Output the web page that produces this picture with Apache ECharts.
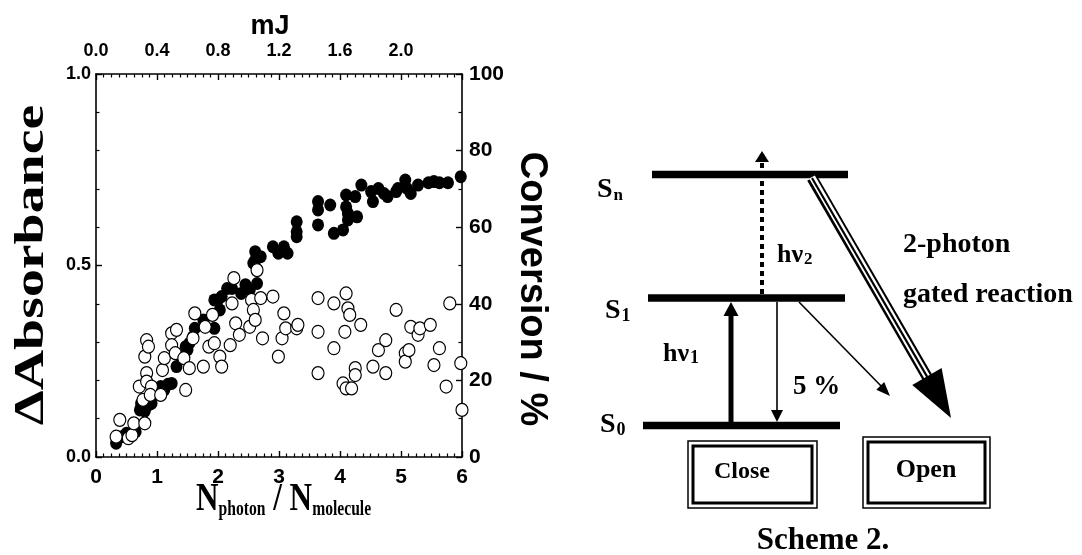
<!DOCTYPE html>
<html>
<head>
<meta charset="utf-8">
<script src="https://cdn.jsdelivr.net/npm/echarts@6/dist/echarts.min.js"></script>
<style>html,body{margin:0;background:#fff}#main{width:1082px;height:555px}</style>
</head>
<body>
<div id="main"></div>
<script>
// ΔAbsorbance (filled circles), x = N_photon / N_molecule
var absX = [0.33, 0.42, 0.50, 0.65, 0.72, 0.74, 0.77, 0.80, 0.86, 0.91, 1.00, 1.06, 1.12, 1.18, 1.24, 1.32, 1.40, 1.47, 1.50, 1.53, 1.59, 1.62, 1.76, 1.94, 1.94, 2.00, 2.03, 2.06, 2.15, 2.23, 2.38, 2.45, 2.52, 2.58, 2.61, 2.61, 2.64, 2.64, 2.70, 2.90, 2.99, 3.08, 3.14, 3.29, 3.29, 3.29, 3.64, 3.64, 3.64, 3.84, 3.90, 4.05, 4.10, 4.10, 4.13, 4.13, 4.25, 4.28, 4.35, 4.51, 4.54, 4.63, 4.72, 4.78, 4.92, 4.95, 5.07, 5.10, 5.16, 5.28, 5.45, 5.54, 5.63, 5.77, 5.98];
var absY = [0.036, 0.053, 0.062, 0.066, 0.123, 0.140, 0.127, 0.120, 0.136, 0.140, 0.170, 0.184, 0.175, 0.190, 0.192, 0.236, 0.260, 0.288, 0.280, 0.297, 0.314, 0.336, 0.358, 0.336, 0.410, 0.410, 0.384, 0.419, 0.440, 0.440, 0.427, 0.450, 0.436, 0.506, 0.536, 0.514, 0.453, 0.523, 0.523, 0.549, 0.532, 0.549, 0.532, 0.614, 0.588, 0.575, 0.667, 0.645, 0.606, 0.658, 0.584, 0.593, 0.684, 0.653, 0.636, 0.619, 0.680, 0.627, 0.710, 0.693, 0.667, 0.701, 0.688, 0.680, 0.693, 0.701, 0.723, 0.701, 0.688, 0.710, 0.716, 0.719, 0.716, 0.716, 0.732];
// Conversion / % (open circles)
var convX = [0.39, 0.33, 0.53, 0.59, 0.62, 0.71, 0.77, 0.80, 0.80, 0.83, 0.86, 0.83, 0.83, 0.91, 0.89, 1.06, 1.09, 1.12, 1.24, 1.32, 1.24, 1.30, 1.44, 1.47, 1.53, 1.62, 1.59, 1.76, 1.79, 1.85, 1.94, 1.91, 2.03, 2.06, 2.20, 2.23, 2.26, 2.29, 2.35, 2.52, 2.55, 2.58, 2.61, 2.64, 2.70, 2.73, 2.90, 3.08, 3.05, 3.11, 2.99, 3.29, 3.31, 3.64, 3.64, 3.64, 3.90, 3.90, 4.08, 4.10, 4.13, 4.16, 4.05, 4.10, 4.19, 4.25, 4.25, 4.34, 4.54, 4.63, 4.75, 4.75, 4.92, 5.07, 5.07, 5.13, 5.16, 5.28, 5.31, 5.48, 5.54, 5.63, 5.74, 5.80, 5.98, 6.00];
var convY = [9.7, 5.3, 4.9, 5.7, 8.8, 18.4, 14.9, 8.8, 26.2, 30.5, 28.8, 21.9, 19.7, 18.4, 16.2, 16.2, 22.7, 25.8, 32.3, 33.2, 29.2, 27.1, 25.8, 17.5, 23.2, 37.5, 31.0, 23.6, 34.0, 28.8, 29.7, 37.1, 26.2, 23.6, 29.2, 40.1, 46.7, 34.9, 31.9, 34.0, 41.0, 38.4, 35.8, 48.8, 41.5, 31.0, 41.9, 37.5, 31.0, 33.6, 26.2, 33.6, 34.5, 41.5, 32.7, 21.9, 40.1, 28.4, 32.7, 42.7, 38.8, 37.1, 19.2, 17.9, 17.9, 23.2, 21.4, 34.5, 23.6, 27.9, 30.5, 21.9, 38.4, 27.1, 24.9, 27.9, 34.0, 31.9, 33.6, 34.5, 24.0, 28.4, 18.4, 40.1, 24.5, 12.3];
var mjLabels = ['0.0', '0.4', '0.8', '1.2', '1.6', '2.0', ''];
var absLabels = ['0.0', '0.5', '1.0'];

var sans = "'Liberation Sans', Arial, sans-serif";
var serif = "'Liberation Serif', 'Times New Roman', serif";

function pairs(xs, ys) {
    return xs.map(function (x, i) { return [x, ys[i]]; });
}

// scheme helpers
function seg(x1, y1, x2, y2, w, extra) {
    var st = { stroke: '#000', lineWidth: w };
    if (extra) for (var k in extra) st[k] = extra[k];
    return { type: 'line', shape: { x1: x1, y1: y1, x2: x2, y2: y2 }, style: st };
}
function head(tx, ty, dx, dy, len, half) {
    var l = Math.sqrt(dx * dx + dy * dy), ux = dx / l, uy = dy / l;
    var bx = tx - ux * len, by = ty - uy * len;
    return { type: 'polygon', shape: { points: [[tx, ty], [bx - uy * half, by + ux * half], [bx + uy * half, by - ux * half]] }, style: { fill: '#000' } };
}
function txt(x, y, s, size, align, rich) {
    return { type: 'text', x: x, y: y, style: { text: s, font: 'bold ' + size + 'px ' + serif, fill: '#000', align: align || 'left', verticalAlign: 'middle', rich: rich } };
}
function box(x, y, w, h) {
    return [
        { type: 'rect', shape: { x: x, y: y, width: w, height: h }, style: { fill: 'none', stroke: '#000', lineWidth: 1.5 } },
        { type: 'rect', shape: { x: x + 5, y: y + 5, width: w - 10, height: h - 10 }, style: { fill: 'none', stroke: '#000', lineWidth: 3 } }
    ];
}
function subRich(big, small) {
    return {
        b: { fontSize: big, fontWeight: 'bold', fontFamily: serif },
        s: { fontSize: small, fontWeight: 'bold', fontFamily: serif, verticalAlign: 'bottom', padding: [0, 0, 0, 1] }
    };
}

var triTip = [951, 418], triStart = [812, 178];
var tdx = triTip[0] - triStart[0], tdy = triTip[1] - triStart[1], tl = Math.sqrt(tdx * tdx + tdy * tdy);
var triEnd = [triTip[0] - tdx / tl * 44, triTip[1] - tdy / tl * 44];

var scheme = [
    // energy levels
    seg(652, 174.5, 848, 174.5, 7.5),
    seg(648, 298, 845, 298, 7.5),
    seg(643, 425.5, 840, 425.5, 7.5),
    // h nu 1 (thick up arrow)
    seg(731, 429, 731, 314, 5),
    head(731, 302, 0, -1, 14, 7.5),
    // h nu 2 (dotted up arrow)
    seg(762, 294, 762, 160, 4, { lineDash: [5, 4] }),
    head(762, 151, 0, -1, 11, 7),
    // 5 % back to S0
    seg(777, 302, 777, 412, 1.6),
    head(777, 422, 0, 1, 12, 6),
    // thin diagonal
    seg(799, 302, 884, 389, 1.6),
    head(890, 396, 91, 94, 14, 5.5),
    // triple line to Open
    seg(triStart[0], triStart[1], triEnd[0], triEnd[1], 11),
    seg(triStart[0], triStart[1] - 1, triEnd[0], triEnd[1], 6.5, { stroke: '#fff' }),
    seg(triStart[0], triStart[1], triEnd[0], triEnd[1], 2.2),
    head(triTip[0], triTip[1], tdx, tdy, 48, 17),
    // labels
    txt(597, 190, '{b|S}{s|n}', 28, 'left', subRich(28, 17)),
    txt(605, 311, '{b|S}{s|1}', 28, 'left', subRich(28, 18)),
    txt(600, 425, '{b|S}{s|0}', 28, 'left', subRich(28, 18)),
    txt(777, 255, '{b|hν}{s|2}', 26, 'left', subRich(26, 17)),
    txt(663, 354, '{b|hν}{s|1}', 26, 'left', subRich(26, 18)),
    txt(793, 387, '5 %', 27, 'left'),
    txt(903, 245, '2-photon', 28, 'left'),
    txt(903, 295, 'gated reaction', 28, 'left'),
    txt(742, 472, 'Close', 24, 'center'),
    txt(926, 470, 'Open', 26, 'center'),
    txt(823, 541, 'Scheme 2.', 31, 'center')
].concat(box(688, 441, 129, 67), box(863, 437, 127, 71));

// axis titles
var titles = [
    { type: 'text', x: 32, y: 265, rotation: Math.PI / 2, scaleX: 1.33,
      style: { text: 'ΔAbsorbance', font: 'bold 42px ' + serif, fill: '#000', align: 'center', verticalAlign: 'middle' } },
    { type: 'text', x: 531, y: 289, rotation: -Math.PI / 2,
      style: { text: 'Conversion / %', font: 'bold 38px ' + sans, fill: '#000', align: 'center', verticalAlign: 'middle' } },
    { type: 'text', x: 270, y: 27,
      style: { text: 'mJ', font: 'bold 27px ' + sans, fill: '#000', align: 'center', verticalAlign: 'middle' } },
    { type: 'text', x: 196, y: 500, scaleX: 0.78,
      style: { text: '{b|N}{s|photon}{b| / N}{s|molecule}', fill: '#000', align: 'left', verticalAlign: 'middle',
               rich: { b: { fontSize: 40, fontWeight: 'bold', fontFamily: serif }, s: { fontSize: 20, fontWeight: 'bold', fontFamily: serif, verticalAlign: 'bottom' } } } }
];

var chart = echarts.init(document.getElementById('main'));

function frameAxis(extra) {
    var a = {
        axisLine: { show: true, onZero: false, lineStyle: { color: '#000', width: 1.6 } },
        axisTick: { show: true, inside: true, length: 6, lineStyle: { color: '#000', width: 1.4 } },
        minorTick: { show: true, length: 3.5, lineStyle: { color: '#000', width: 1.2 } },
        splitLine: { show: false },
        axisLabel: { color: '#000', fontWeight: 'bold', fontFamily: sans }
    };
    for (var k in extra) {
        if (a[k] && typeof a[k] === 'object') for (var j in extra[k]) a[k][j] = extra[k][j];
        else a[k] = extra[k];
    }
    return a;
}

var option = {
    animation: false,
    backgroundColor: '#fff',
    grid: { left: 96, top: 74, width: 366, height: 383, outerBoundsMode: 'none' },
    xAxis: [
        frameAxis({ type: 'value', position: 'bottom', min: 0, max: 6, interval: 1,
            minorTick: { splitNumber: 8 },
            axisLabel: { fontSize: 21, margin: 10 } }),
        frameAxis({ type: 'value', position: 'top', min: 0, max: 2.4, interval: 0.4,
            minorTick: { splitNumber: 8 },
            axisLabel: { fontSize: 18, margin: 14, formatter: function (v, i) { return mjLabels[i]; } } })
    ],
    yAxis: [
        frameAxis({ type: 'value', position: 'left', min: 0, max: 1, interval: 0.5,
            minorTick: { splitNumber: 5 },
            axisLabel: { fontSize: 18, margin: 5, formatter: function (v, i) { return absLabels[i]; } } }),
        frameAxis({ type: 'value', position: 'right', min: 0, max: 100, interval: 20,
            minorTick: { splitNumber: 2 },
            axisLabel: { fontSize: 21, margin: 7 } })
    ],
    series: [
        { name: 'ΔAbsorbance', type: 'scatter', xAxisIndex: 0, yAxisIndex: 0,
          symbol: 'circle', symbolSize: [12, 13],
          itemStyle: { color: '#000', opacity: 1 },
          data: pairs(absX, absY) },
        { name: 'Conversion', type: 'scatter', xAxisIndex: 0, yAxisIndex: 1,
          symbol: 'circle', symbolSize: [12, 13],
          itemStyle: { color: '#fff', borderColor: '#000', borderWidth: 1.2, opacity: 1 },
          data: pairs(convX, convY) }
    ],
    graphic: titles.concat(scheme)
};

chart.setOption(option);
window.addEventListener('resize', chart.resize);
</script>
</body>
</html>
